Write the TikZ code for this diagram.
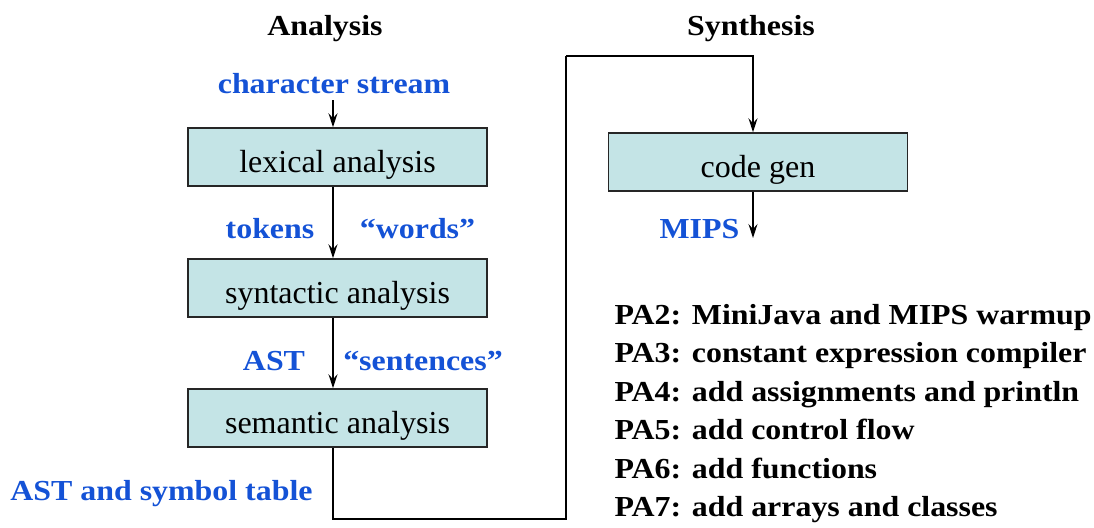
\documentclass[tikz,border=0pt]{standalone}
\usepackage{fontspec}
\setmainfont{Liberation Serif}
\newfontfamily\lblfam{Liberation Serif}[FakeStretch=1.1]
\usetikzlibrary{arrows.meta}
\definecolor{phaseblue}{RGB}{20,82,214}
\definecolor{phasefill}{RGB}{196,228,230}

\begin{document}
\begin{tikzpicture}
[x=1pt,y=-1pt,
 ar/.style={-{Stealth[length=14pt,width=9pt,inset=5pt]},line width=1.2pt},
 ln/.style={line width=1.2pt},
 box/.style={draw=black!85,line width=1.5pt,fill=phasefill,minimum width=299pt,minimum height=58pt,
   inner sep=0pt,text height=30pt,text depth=0pt,font=\fontsize{32}{38}\selectfont},
 hd/.style={anchor=base,font=\lblfam\bfseries\fontsize{29}{35}\selectfont},
 lb/.style={hd,text=phaseblue},
 pa/.style={hd,anchor=base west}]
\useasboundingbox (0,0) rectangle (1094,527);

\node [hd] at (325,36) (ana) {Analysis};
\node [hd] at (751,36) (syn) {Synthesis};

\node [lb] at (334,93) (chr) {character stream};
\node [box] at (337.5,157) (lex) {lexical analysis};
\node [box] at (337.5,288) (par) {syntactic analysis};
\node [box] at (337.5,418) (sem) {semantic analysis};
\node [box] at (758,162) (gen) {code gen};

\node [lb] at (270,238) (tok) {tokens};
\node [lb] at (417.5,238) (wrd) {“words”};
\node [lb] at (274,370) (ast) {AST};
\node [lb] at (423,370) (snt) {“sentences”};
\node [lb] at (161.5,500) (sym) {AST and symbol table};
\node [lb] at (699.5,238) (mips) {MIPS};

\coordinate (ax) at (333,0);
\coordinate (gx) at (753,0);
\coordinate (top) at (333,100);
\coordinate (low) at (566,519);
\coordinate (high) at (566,56);
\coordinate (out) at (753,238);

\draw [ar] (top) -- (lex.north -| ax);
\draw [ar] (lex.south -| ax) -- (par.north -| ax);
\draw [ar] (par.south -| ax) -- (sem.north -| ax);
\draw [ln] (sem.south -| ax) |- (low) -- (high);
\draw [ar] (high) -| (gen.north -| gx);
\draw [ar] (gen.south -| gx) -- (out);

% programming assignments
\foreach \t [count=\i from 2] in {MiniJava and MIPS warmup,constant expression compiler,
  add assignments and println,add control flow,add functions,add arrays and classes}
  \node [pa] at (611,{324+38.5*(\i-2)}) (pa\i) {PA\i: \t};
\end{tikzpicture}
\end{document}
